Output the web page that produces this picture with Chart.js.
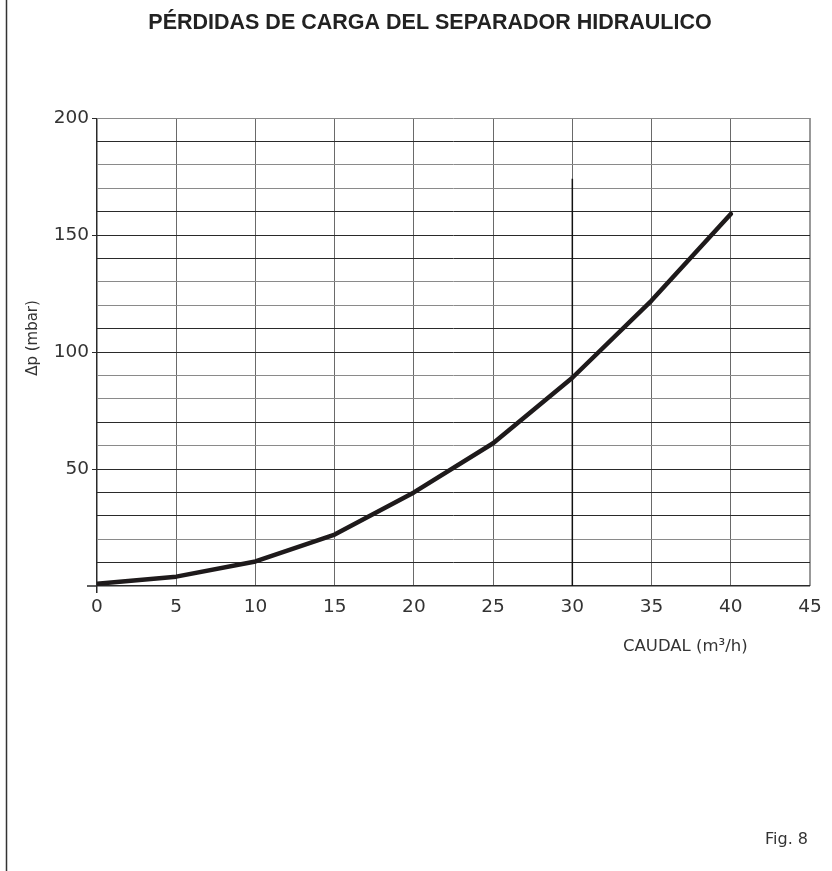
<!DOCTYPE html>
<html>
<head>
<meta charset="utf-8">
<script src="https://cdn.jsdelivr.net/npm/chart.js@4.4.1/dist/chart.umd.min.js"></script>
<style>
html,body{margin:0;padding:0;background:#fff;}
#wrap{width:832px;height:871px;position:relative;}
</style>
</head>
<body>
<div id="wrap"><canvas id="c" width="832" height="871"></canvas></div>
<script>
// ---- data ----
const caudal = [0, 5, 10, 15, 20, 25, 30, 35, 40];          // m3/h
const perdidas = [1, 4, 10.5, 22, 40, 61, 89, 122, 159];     // mbar
const marcaX = [30, 30];                                     // vertical marker line at 30 m3/h
const marcaY = [0, 174];
const xTicks = [0, 5, 10, 15, 20, 25, 30, 35, 40, 45];
const yTickLabels = [50, 100, 150, 200];
const titulo = 'PÉRDIDAS DE CARGA DEL SEPARADOR HIDRAULICO';
const tituloY = 'Δp (mbar)';
const tituloX = 'CAUDAL (m³/h)';
const figura = 'Fig. 8';

const FONT = '"DejaVu Sans", sans-serif';
const dark = '#2a2a2a', gray = '#8a8a8a';
const hDark = [190, 160, 150, 140, 110, 100, 70, 50, 40, 30, 10];

const annot = {
  id: 'annot',
  afterDraw(chart) {
    const ctx = chart.ctx;
    ctx.save();
    // page frame line
    ctx.strokeStyle = '#333'; ctx.lineWidth = 1.5;
    ctx.beginPath(); ctx.moveTo(6.5, 0); ctx.lineTo(6.5, 871); ctx.stroke();
    // title
    ctx.fillStyle = '#222';
    ctx.font = 'bold 21.5px "Liberation Sans", sans-serif';
    ctx.textAlign = 'center'; ctx.textBaseline = 'middle';
    ctx.fillText(titulo, 430, 23);
    // y title
    ctx.font = '15px ' + FONT;
    ctx.fillStyle = '#333';
    ctx.save(); ctx.translate(33, 338); ctx.rotate(-Math.PI/2);
    ctx.fillText(tituloY, 0, 0); ctx.restore();
    // x title
    ctx.textAlign = 'left';
    ctx.font = '16.5px ' + FONT;
    ctx.fillText(tituloX, 623, 647);
    // fig
    ctx.font = '16px ' + FONT;
    ctx.fillText(figura, 765, 840);
    // x axis overhang left of origin
    const xs = chart.scales.x, ys = chart.scales.y;
    ctx.strokeStyle = dark; ctx.lineWidth = 1.5;
    ctx.beginPath(); ctx.moveTo(87, ys.getPixelForValue(0)); ctx.lineTo(xs.getPixelForValue(0), ys.getPixelForValue(0)); ctx.stroke();
    ctx.restore();
  }
};

new Chart(document.getElementById('c'), {
  type: 'line',
  data: {
    datasets: [
      {
        data: caudal.map((x, i) => ({x, y: perdidas[i]})),
        borderColor: '#1e1a1b', borderWidth: 4.5, pointRadius: 0, tension: 0,
        borderCapStyle: 'round', borderJoinStyle: 'round', order: 1
      },
      {
        data: marcaX.map((x, i) => ({x, y: marcaY[i]})),
        borderColor: '#111', borderWidth: 1.5, pointRadius: 0, order: 2
      }
    ]
  },
  options: {
    responsive: false,
    animation: false,
    devicePixelRatio: 1,
    layout: { padding: { left: 0, top: 118, right: 22, bottom: 255 } },
    plugins: { legend: { display: false }, tooltip: { enabled: false }, title: { display: false } },
    scales: {
      x: {
        type: 'linear', min: 0, max: 45,
        afterFit(a) { a.height = 30; },
        afterBuildTicks(a) { a.ticks = xTicks.map(v => ({value: v})); },
        ticks: { font: { family: FONT, size: 18.5 }, color: '#333', padding: 3, maxRotation: 0, autoSkip: false,
                 callback: v => String(v) },
        grid: {
          color: c => c.tick && c.tick.value === 0 ? dark : (c.tick && c.tick.value === 45 ? '#999' : '#6a6a6a'),
          lineWidth: c => c.tick && (c.tick.value === 0) ? 1.5 : (c.tick && c.tick.value === 45 ? 2 : 1),
          tickLength: 7,
          tickColor: c => c.tick && c.tick.value === 0 ? dark : 'rgba(0,0,0,0)'
        },
        border: { display: false }
      },
      y: {
        type: 'linear', min: 0, max: 200,
        afterFit(a) { a.width = 97; },
        afterBuildTicks(a) { const t = []; for (let v = 0; v <= 200; v += 10) t.push({value: v}); a.ticks = t; },
        ticks: { font: { family: FONT, size: 18.5 }, color: '#333', padding: 3, autoSkip: false,
                 callback: v => yTickLabels.includes(v) ? String(v) : '' },
        grid: {
          color: c => {
            const v = c.tick ? c.tick.value : -1;
            if (v === 0) return dark;
            if (v === 200) return '#8a8a8a';
            return hDark.includes(v) ? dark : gray;
          },
          lineWidth: c => (c.tick && c.tick.value === 0) ? 1.5 : 1,
          tickLength: 5,
          tickColor: c => c.tick && yTickLabels.includes(c.tick.value) ? dark : 'rgba(0,0,0,0)'
        },
        border: { display: false }
      }
    }
  },
  plugins: [annot]
});
</script>
</body>
</html>
